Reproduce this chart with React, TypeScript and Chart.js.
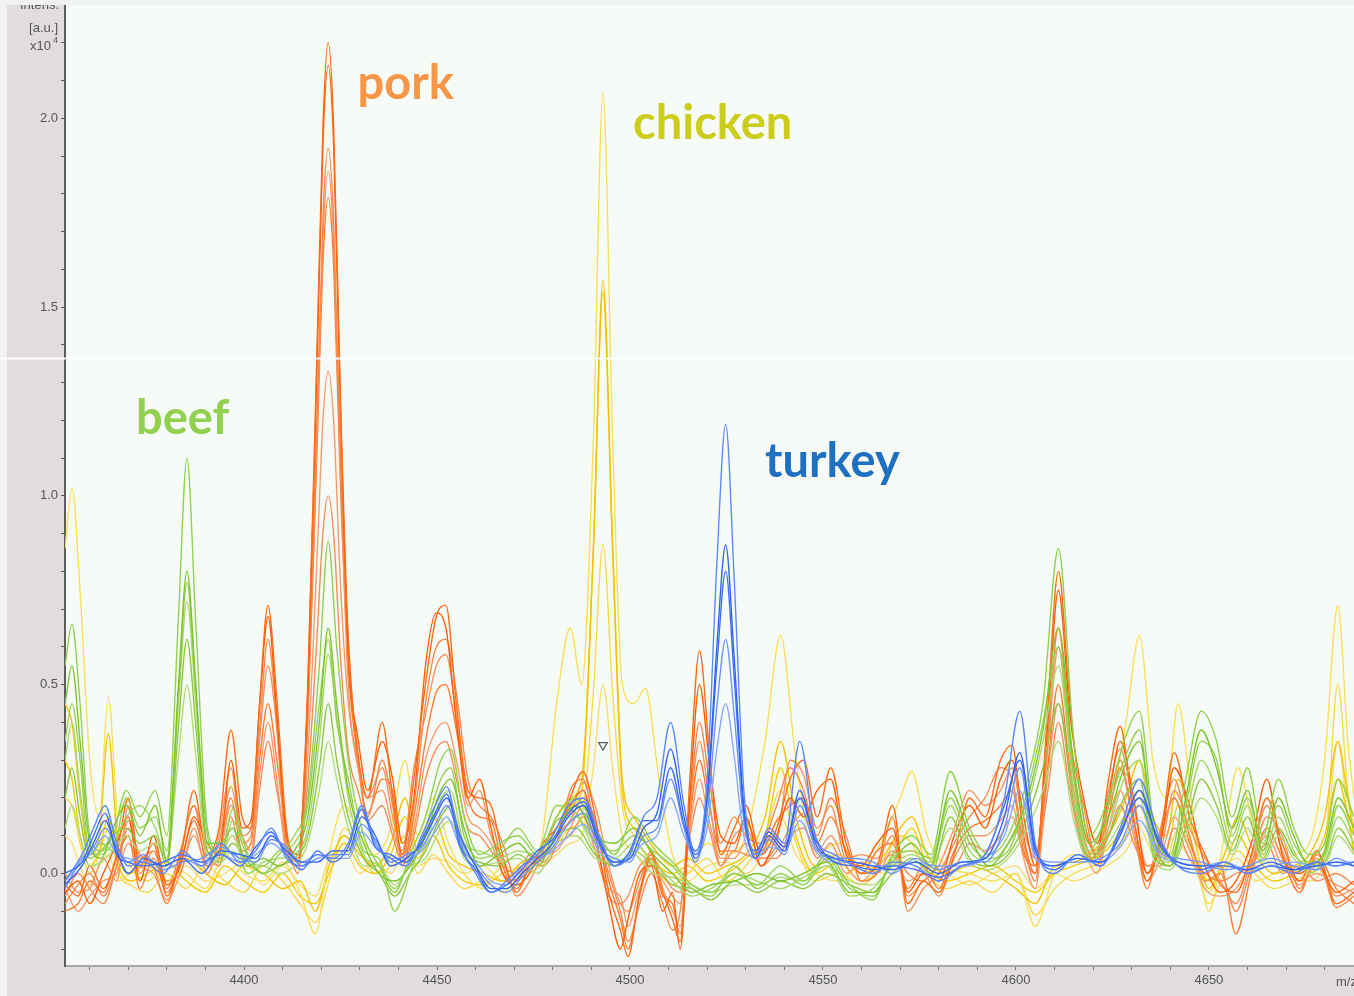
import React, { useEffect, useRef } from "react";
import { Chart, registerables } from "chart.js";

Chart.register(...registerables);

// ---- m/z grids and intensities (x10^4 a.u.) ----

const PORK_MZ = [
  4353.6, 4357, 4360, 4363.5, 4367, 4370, 4373, 4376.5, 4380, 4383.5,
  4387, 4390.5, 4393.5, 4396.6, 4399.5, 4401.8, 4404, 4406.2, 4408.5, 4411,
  4414, 4416.5, 4418.8, 4420.5, 4421.8, 4423.2, 4425, 4427, 4429.5, 4432,
  4435.8, 4438.5, 4441, 4444, 4447, 4449.8, 4452.3, 4455, 4458, 4461,
  4464, 4467, 4470.7, 4474, 4477.5, 4481, 4484.5, 4487.8, 4491, 4494.5,
  4497.5, 4499.5, 4502.5, 4505.5, 4508.5, 4511, 4513, 4515.5, 4518, 4520.5,
  4523.5, 4527, 4530, 4534, 4538, 4541.5, 4545, 4548.5, 4552, 4556,
  4560, 4564, 4568, 4572, 4576, 4580, 4584, 4588, 4592, 4596,
  4599, 4602, 4605, 4608, 4611, 4614, 4617.5, 4621, 4624, 4627,
  4630.5, 4634, 4637.5, 4641, 4645, 4649, 4653, 4657, 4661, 4665,
  4669, 4673.5, 4678, 4683, 4687.6,
];

const PORK_1 = [
  -0.03, -0.06, 0.02, -0.04, 0.05, 0.2, 0.02, 0.08, -0.06, 0.04,
  0.22, 0.05, 0.12, 0.38, 0.15, 0.12, 0.45, 0.71, 0.46, 0.12,
  0.03, 0.5, 1.35, 2.0, 2.2, 1.98, 1.25, 0.62, 0.32, 0.2,
  0.4, 0.2, 0.05, 0.25, 0.5, 0.68, 0.71, 0.45, 0.22, 0.2,
  0.18, 0.05, -0.05, 0.02, 0.05, 0.1, 0.2, 0.27, 0.15, -0.05,
  -0.15, -0.22, -0.05, 0.05, -0.05, -0.12, -0.18, 0.25, 0.59, 0.33,
  0.05, 0.12, 0.18, 0.05, 0.12, 0.25, 0.3, 0.15, 0.28, 0.08,
  0.0, 0.02, 0.18, -0.08, -0.02, -0.05, 0.05, 0.2, 0.15, 0.3,
  0.34, 0.1, 0.0, 0.4, 0.8, 0.45, 0.15, 0.05, 0.25, 0.39,
  0.15, -0.02, 0.1, 0.32, 0.15, 0.05, -0.03, -0.05, 0.05, 0.2,
  0.08, -0.02, 0.06, -0.08, -0.05,
];
const PORK_2 = [
  -0.05, -0.02, -0.08, 0.0, 0.08, 0.15, -0.02, 0.1, -0.03, 0.02,
  0.15, 0.08, 0.05, 0.3, 0.12, 0.14, 0.44, 0.68, 0.42, 0.1,
  0.05, 0.48, 1.31, 1.95, 2.14, 1.93, 1.22, 0.58, 0.36, 0.22,
  0.35, 0.25, 0.08, 0.2, 0.55, 0.69, 0.65, 0.4, 0.2, 0.25,
  0.12, 0.0, -0.03, 0.0, 0.08, 0.12, 0.18, 0.22, 0.1, -0.08,
  -0.2, -0.12, 0.0, 0.02, -0.1, -0.05, -0.2, 0.2, 0.5, 0.3,
  0.1, 0.08, 0.15, 0.02, 0.1, 0.2, 0.15, 0.22, 0.25, 0.05,
  0.02, 0.08, 0.12, -0.05, 0.0, -0.02, 0.1, 0.18, 0.12, 0.25,
  0.3, 0.15, 0.02, 0.36, 0.75, 0.42, 0.2, 0.08, 0.2, 0.35,
  0.2, 0.0, 0.08, 0.28, 0.18, 0.02, -0.05, -0.02, 0.08, 0.25,
  0.05, 0.0, 0.03, -0.05, -0.02,
];
const PORK_3 = [
  -0.08, -0.03, 0.0, -0.06, 0.02, 0.12, 0.05, 0.02, -0.08, 0.05,
  0.18, 0.02, 0.08, 0.23, 0.1, 0.12, 0.38, 0.62, 0.4, 0.08,
  0.02, 0.43, 1.17, 1.75, 1.92, 1.73, 1.1, 0.62, 0.3, 0.15,
  0.3, 0.18, 0.04, 0.18, 0.45, 0.6, 0.62, 0.48, 0.25, 0.18,
  0.15, 0.08, -0.02, 0.04, 0.02, 0.08, 0.22, 0.25, 0.12, 0.0,
  -0.1, -0.18, -0.08, 0.0, -0.08, -0.15, -0.1, 0.18, 0.4, 0.25,
  0.08, 0.15, 0.1, 0.08, 0.18, 0.28, 0.22, 0.1, 0.2, 0.1,
  -0.02, 0.0, 0.15, -0.1, -0.04, 0.0, 0.08, 0.15, 0.2, 0.28,
  0.25, 0.08, -0.02, 0.32, 0.65, 0.36, 0.18, 0.04, 0.18, 0.3,
  0.12, -0.04, 0.12, 0.25, 0.1, -0.02, 0.0, -0.1, 0.02, 0.15,
  0.1, -0.04, 0.04, -0.09, -0.06,
];
const PORK_4 = [
  0.0, -0.05, -0.04, 0.04, -0.02, 0.18, 0.0, 0.06, -0.02, 0.0,
  0.12, 0.0, 0.1, 0.28, 0.08, 0.1, 0.35, 0.55, 0.38, 0.06,
  0.04, 0.42, 1.13, 1.69, 1.86, 1.67, 1.06, 0.5, 0.28, 0.2,
  0.28, 0.15, 0.06, 0.28, 0.42, 0.55, 0.58, 0.42, 0.18, 0.22,
  0.1, 0.04, -0.06, -0.02, 0.06, 0.14, 0.16, 0.24, 0.18, 0.02,
  -0.08, -0.1, -0.02, 0.06, -0.04, -0.1, -0.14, 0.16, 0.35, 0.2,
  0.02, 0.1, 0.12, 0.04, 0.08, 0.3, 0.26, 0.12, 0.18, 0.04,
  0.05, 0.04, 0.1, -0.06, -0.02, 0.02, 0.12, 0.22, 0.18, 0.22,
  0.28, 0.12, 0.04, 0.3, 0.6, 0.33, 0.12, 0.06, 0.22, 0.33,
  0.18, 0.02, 0.06, 0.22, 0.12, 0.04, -0.02, -0.08, 0.04, 0.18,
  0.06, -0.03, 0.02, -0.06, -0.04,
];
const PORK_5 = [
  -0.1, -0.08, -0.02, -0.05, 0.04, 0.1, -0.04, 0.04, -0.05, 0.03,
  0.14, 0.04, 0.06, 0.2, 0.06, 0.08, 0.3, 0.45, 0.3, 0.1,
  0.0, 0.4, 1.09, 1.63, 1.79, 1.61, 1.02, 0.55, 0.3, 0.16,
  0.25, 0.22, 0.02, 0.15, 0.35, 0.48, 0.5, 0.38, 0.2, 0.15,
  0.14, 0.02, -0.04, 0.02, 0.04, 0.1, 0.14, 0.2, 0.14, -0.02,
  -0.12, -0.2, -0.06, 0.04, -0.06, -0.08, -0.16, 0.14, 0.3, 0.18,
  0.06, 0.06, 0.14, 0.06, 0.14, 0.18, 0.2, 0.08, 0.15, 0.06,
  0.0, 0.06, 0.08, -0.04, 0.02, -0.04, 0.06, 0.12, 0.14, 0.18,
  0.22, 0.06, 0.0, 0.26, 0.5, 0.28, 0.1, 0.02, 0.15, 0.28,
  0.14, 0.0, 0.1, 0.2, 0.08, 0.0, 0.02, -0.16, 0.0, 0.12,
  0.04, -0.05, 0.05, -0.04, -0.08,
];
const PORK_6 = [
  -0.04, -0.1, -0.06, -0.02, 0.0, 0.08, 0.02, 0.0, -0.07, 0.0,
  0.1, 0.02, 0.04, 0.18, 0.1, 0.06, 0.26, 0.4, 0.25, 0.05,
  0.02, 0.31, 0.81, 1.21, 1.33, 1.2, 0.76, 0.45, 0.3, 0.2,
  0.22, 0.12, 0.05, 0.12, 0.3, 0.38, 0.4, 0.3, 0.15, 0.12,
  0.08, 0.0, -0.02, 0.03, 0.05, 0.06, 0.12, 0.18, 0.08, -0.04,
  -0.06, -0.14, -0.04, 0.02, -0.02, -0.06, -0.08, 0.12, 0.25, 0.14,
  0.04, 0.04, 0.08, 0.02, 0.06, 0.12, 0.16, 0.06, 0.1, 0.02,
  -0.02, 0.02, 0.05, -0.02, 0.0, -0.06, 0.04, 0.1, 0.1, 0.14,
  0.18, 0.04, -0.04, 0.24, 0.45, 0.26, 0.08, 0.0, 0.12, 0.22,
  0.1, -0.02, 0.04, 0.15, 0.06, -0.04, -0.06, -0.04, 0.03, 0.1,
  0.02, -0.02, 0.0, -0.03, -0.05,
];
const PORK_7 = [
  -0.06, 0.0, -0.04, -0.08, 0.02, 0.14, 0.04, 0.06, -0.04, 0.06,
  0.18, 0.06, 0.02, 0.15, 0.04, 0.04, 0.22, 0.35, 0.22, 0.08,
  0.04, 0.24, 0.61, 0.91, 1.0, 0.9, 0.57, 0.32, 0.22, 0.14,
  0.18, 0.1, 0.03, 0.1, 0.25, 0.33, 0.35, 0.25, 0.12, 0.1,
  0.06, 0.02, 0.0, 0.05, 0.03, 0.08, 0.1, 0.15, 0.06, -0.06,
  -0.08, -0.06, 0.02, 0.04, 0.0, -0.04, -0.05, 0.1, 0.2, 0.12,
  0.02, 0.06, 0.05, 0.04, 0.04, 0.1, 0.12, 0.04, 0.08, 0.0,
  0.03, 0.0, 0.06, 0.0, -0.02, 0.02, 0.02, 0.08, 0.06, 0.1,
  0.15, 0.05, 0.02, 0.2, 0.4, 0.22, 0.06, 0.04, 0.1, 0.18,
  0.08, 0.02, 0.02, 0.12, 0.04, 0.0, -0.02, 0.0, 0.02, 0.08,
  0.0, 0.02, -0.02, 0.0, -0.03,
];
const PORK_TRACES = [PORK_1, PORK_2, PORK_3, PORK_4, PORK_5, PORK_6, PORK_7];
const PORK_COLORS = ["#ff6a14", "#ff5c00", "#f5884d", "#f7925e", "#ff7a2e", "#f59a6a", "#f78a55"];

const CHICKEN_MZ = [
  4353.6, 4355.4, 4357.5, 4360, 4362.5, 4364.8, 4367.5, 4370.5, 4375, 4380,
  4385, 4390, 4395, 4400, 4405, 4410, 4414.5, 4418.5, 4422, 4426,
  4430, 4434, 4438, 4441.7, 4445, 4449, 4453, 4457, 4462, 4467,
  4472, 4477, 4481, 4484.5, 4487.5, 4490.5, 4493, 4495.5, 4498, 4501,
  4504, 4507.5, 4511, 4515, 4520, 4525, 4530, 4535, 4539, 4543,
  4548, 4554, 4560, 4566, 4570, 4573, 4577, 4582, 4588, 4594,
  4600, 4605, 4610, 4615, 4620, 4625, 4628.5, 4632, 4635.5, 4639,
  4642, 4646, 4650, 4654, 4657.5, 4662, 4667, 4672, 4676, 4680,
  4683.4, 4686, 4687.6,
];
const CHICKEN_1 = [
  0.86, 1.02, 0.75, 0.3, 0.15, 0.47, 0.1, 0.02, -0.02, 0.02,
  0.0, -0.04, 0.05, 0.0, -0.02, 0.03, -0.05, -0.16, 0.05, 0.18,
  0.1, 0.05, 0.12, 0.3, 0.1, 0.2, 0.08, 0.0, -0.04, 0.02,
  0.0, 0.08, 0.45, 0.65, 0.5, 1.15, 2.07, 1.15, 0.5, 0.45,
  0.49, 0.25, 0.05, 0.0, 0.08, 0.05, 0.1, 0.35, 0.63, 0.3,
  0.05, 0.08, 0.02, 0.1, 0.2, 0.27, 0.1, 0.02, 0.0, -0.02,
  0.0, -0.14, 0.0, 0.05, 0.05, 0.2, 0.4, 0.63, 0.3, 0.2,
  0.45, 0.15, -0.1, 0.1, 0.28, 0.1, 0.02, 0.05, 0.08, 0.3,
  0.71, 0.35, 0.2,
];
const CHICKEN_2 = [
  0.45, 0.4, 0.2, 0.05, 0.1, 0.37, 0.05, 0.0, 0.03, -0.02,
  0.04, 0.0, -0.03, 0.02, 0.0, -0.04, -0.02, -0.1, 0.02, 0.1,
  0.05, 0.02, 0.08, 0.2, 0.06, 0.15, 0.05, 0.02, 0.0, -0.02,
  0.03, 0.05, 0.15, 0.2, 0.25, 0.86, 1.57, 0.87, 0.25, 0.15,
  0.1, 0.05, 0.02, 0.04, 0.0, 0.02, 0.05, 0.15, 0.35, 0.15,
  0.02, 0.05, 0.0, 0.05, 0.12, 0.15, 0.05, 0.0, 0.02, 0.0,
  -0.04, -0.08, 0.02, 0.03, 0.06, 0.12, 0.2, 0.3, 0.15, 0.1,
  0.25, 0.1, -0.04, 0.05, 0.15, 0.05, 0.0, 0.02, 0.05, 0.15,
  0.35, 0.2, 0.1,
];
const CHICKEN_3 = [
  0.3, 0.25, 0.1, 0.02, 0.06, 0.15, 0.02, -0.02, 0.0, 0.03,
  -0.02, -0.05, 0.02, -0.02, -0.05, 0.0, -0.06, -0.08, 0.0, 0.08,
  0.02, 0.0, 0.05, 0.15, 0.04, 0.1, 0.02, -0.02, -0.03, 0.0,
  0.02, 0.06, 0.12, 0.18, 0.22, 0.85, 1.54, 0.85, 0.22, 0.12,
  0.08, 0.02, 0.0, 0.02, -0.02, 0.0, 0.04, 0.1, 0.28, 0.1,
  0.0, 0.03, -0.02, 0.02, 0.08, 0.12, 0.02, -0.02, 0.0, 0.02,
  -0.02, -0.05, 0.0, 0.02, 0.04, 0.08, 0.15, 0.22, 0.12, 0.06,
  0.18, 0.06, -0.02, 0.02, 0.1, 0.02, -0.02, 0.0, 0.03, 0.1,
  0.25, 0.15, 0.06,
];
const CHICKEN_4 = [
  0.2, 0.18, 0.08, 0.0, 0.05, 0.12, 0.0, -0.03, -0.05, 0.0,
  -0.04, 0.02, -0.02, -0.05, 0.02, -0.02, -0.08, -0.13, -0.02, 0.12,
  0.06, 0.0, 0.02, 0.1, 0.0, 0.05, 0.0, -0.04, -0.02, -0.05,
  0.0, 0.04, 0.08, 0.12, 0.15, 0.48, 0.87, 0.48, 0.18, 0.1,
  0.05, 0.0, -0.03, 0.0, 0.04, -0.02, 0.02, 0.1, 0.22, 0.08,
  -0.02, 0.0, -0.03, 0.04, 0.1, 0.08, 0.0, -0.04, -0.02, -0.05,
  0.0, -0.11, -0.04, 0.0, 0.02, 0.05, 0.1, 0.18, 0.08, 0.04,
  0.12, 0.04, -0.08, 0.0, 0.06, 0.0, -0.04, -0.02, 0.0, 0.06,
  0.5, 0.22, 0.12,
];
const CHICKEN_5 = [
  0.1, 0.08, 0.02, -0.03, 0.02, 0.05, -0.02, 0.0, 0.02, -0.03,
  0.02, -0.02, 0.0, 0.03, -0.03, 0.02, -0.03, -0.06, 0.04, 0.06,
  0.0, 0.03, 0.0, 0.06, 0.02, 0.04, 0.03, 0.0, 0.02, -0.02,
  -0.01, 0.02, 0.05, 0.08, 0.1, 0.28, 0.5, 0.28, 0.1, 0.06,
  0.02, 0.03, 0.0, -0.02, 0.02, 0.03, 0.0, 0.06, 0.15, 0.05,
  0.0, -0.02, 0.02, 0.0, 0.05, 0.06, 0.02, 0.0, -0.03, 0.0,
  0.02, -0.04, 0.0, -0.02, 0.0, 0.03, 0.06, 0.12, 0.05, 0.02,
  0.08, 0.02, -0.05, 0.02, 0.04, -0.02, 0.0, 0.02, -0.02, 0.04,
  0.35, 0.15, 0.05,
];
const CHICKEN_TRACES = [CHICKEN_1, CHICKEN_2, CHICKEN_3, CHICKEN_4, CHICKEN_5];
const CHICKEN_COLORS = ["#f8df55", "#f2c200", "#f5c900", "#f7d84a", "#f8dc6a"];

const BEEF_MZ = [
  4353.6, 4355.4, 4357.5, 4360, 4363, 4366, 4369.5, 4373, 4377, 4380,
  4383, 4385.2, 4387.5, 4390.5, 4394, 4397, 4401, 4405, 4409, 4413,
  4416.5, 4419.5, 4421.8, 4424, 4427, 4431, 4435, 4439, 4443, 4447,
  4451, 4453.5, 4457, 4461, 4466, 4471, 4476, 4481, 4486, 4491,
  4496, 4501, 4506, 4511, 4516, 4521, 4527, 4533, 4539, 4545,
  4551, 4557, 4563, 4568, 4573, 4578, 4583, 4588, 4593, 4598,
  4603, 4607, 4611, 4615, 4619, 4624, 4628, 4632, 4636, 4640,
  4644, 4648, 4652, 4656, 4660, 4664, 4668, 4672, 4676, 4680,
  4683.5, 4687.6,
];
const BEEF_1 = [
  0.55, 0.66, 0.45, 0.1, 0.06, 0.1, 0.22, 0.15, 0.22, 0.1,
  0.68, 1.1, 0.66, 0.12, 0.05, 0.17, 0.05, 0.0, 0.05, 0.1,
  0.2, 0.55, 0.88, 0.6, 0.3, 0.1, 0.02, -0.05, 0.05, 0.15,
  0.3, 0.33, 0.15, 0.05, 0.08, 0.1, 0.05, 0.15, 0.2, 0.12,
  0.05, 0.15, 0.08, 0.03, -0.03, -0.05, 0.0, -0.03, 0.02, -0.02,
  0.05, -0.03, -0.07, 0.05, 0.1, 0.05, 0.27, 0.12, 0.05, 0.1,
  0.25, 0.45, 0.86, 0.35, 0.1, 0.2, 0.35, 0.43, 0.1, 0.05,
  0.25, 0.43, 0.35, 0.15, 0.28, 0.1, 0.25, 0.12, 0.05, 0.08,
  0.25, 0.15,
];
const BEEF_2 = [
  0.45, 0.55, 0.35, 0.08, 0.04, 0.12, 0.18, 0.1, 0.18, 0.03,
  0.5, 0.8, 0.5, 0.08, 0.08, 0.12, 0.02, 0.04, 0.02, 0.06,
  0.15, 0.4, 0.65, 0.45, 0.22, 0.08, 0.0, -0.02, 0.02, 0.1,
  0.22, 0.25, 0.12, 0.02, 0.05, 0.08, 0.03, 0.12, 0.18, 0.1,
  0.08, 0.12, 0.05, 0.0, -0.05, -0.03, -0.02, 0.0, -0.02, 0.0,
  0.03, -0.05, -0.05, 0.03, 0.08, 0.02, 0.22, 0.1, 0.02, 0.08,
  0.2, 0.38, 0.65, 0.28, 0.08, 0.15, 0.28, 0.35, 0.08, 0.02,
  0.2, 0.38, 0.28, 0.12, 0.22, 0.06, 0.2, 0.1, 0.02, 0.06,
  0.2, 0.12,
];
const BEEF_3 = [
  0.35, 0.45, 0.3, 0.05, 0.08, 0.06, 0.2, 0.12, 0.15, 0.06,
  0.48, 0.77, 0.48, 0.1, 0.03, 0.14, 0.04, 0.02, 0.06, 0.08,
  0.18, 0.45, 0.62, 0.4, 0.25, 0.06, 0.04, -0.1, 0.0, 0.12,
  0.25, 0.28, 0.1, 0.04, 0.06, 0.12, 0.06, 0.18, 0.16, 0.08,
  0.06, 0.1, 0.06, 0.02, -0.04, -0.06, 0.02, -0.04, 0.0, -0.03,
  0.04, -0.04, -0.06, 0.04, 0.06, 0.04, 0.2, 0.08, 0.04, 0.06,
  0.22, 0.4, 0.6, 0.25, 0.06, 0.18, 0.3, 0.38, 0.06, 0.04,
  0.18, 0.35, 0.3, 0.1, 0.2, 0.08, 0.18, 0.08, 0.03, 0.05,
  0.18, 0.1,
];
const BEEF_4 = [
  0.3, 0.4, 0.22, 0.06, 0.05, 0.08, 0.15, 0.18, 0.12, 0.04,
  0.45, 0.72, 0.45, 0.07, 0.06, 0.1, 0.0, 0.03, 0.04, 0.05,
  0.12, 0.35, 0.58, 0.42, 0.2, 0.05, 0.02, -0.04, 0.03, 0.08,
  0.2, 0.22, 0.08, 0.06, 0.04, 0.06, 0.05, 0.14, 0.15, 0.06,
  0.04, 0.08, 0.03, -0.02, -0.06, -0.04, 0.0, -0.02, -0.04, -0.01,
  0.02, -0.06, -0.04, 0.02, 0.05, 0.03, 0.18, 0.06, 0.03, 0.08,
  0.18, 0.35, 0.55, 0.22, 0.05, 0.12, 0.25, 0.3, 0.05, 0.03,
  0.15, 0.3, 0.22, 0.08, 0.18, 0.05, 0.15, 0.06, 0.0, 0.04,
  0.15, 0.08,
];
const BEEF_5 = [
  0.2, 0.28, 0.15, 0.04, 0.06, 0.1, 0.12, 0.08, 0.1, 0.02,
  0.39, 0.62, 0.39, 0.06, 0.04, 0.08, 0.03, 0.0, 0.02, 0.04,
  0.1, 0.28, 0.45, 0.3, 0.15, 0.04, 0.0, -0.06, 0.0, 0.06,
  0.15, 0.18, 0.06, 0.03, 0.02, 0.05, 0.02, 0.1, 0.12, 0.05,
  0.02, 0.06, 0.02, -0.03, -0.04, -0.07, -0.02, -0.05, -0.02, -0.04,
  0.0, -0.03, -0.05, 0.0, 0.04, 0.0, 0.15, 0.04, 0.02, 0.05,
  0.15, 0.28, 0.45, 0.18, 0.04, 0.1, 0.2, 0.25, 0.04, 0.02,
  0.12, 0.25, 0.18, 0.06, 0.15, 0.04, 0.12, 0.05, 0.02, 0.03,
  0.12, 0.06,
];
const BEEF_6 = [
  0.12, 0.18, 0.1, 0.02, 0.03, 0.06, 0.1, 0.06, 0.08, 0.04,
  0.31, 0.5, 0.31, 0.04, 0.03, 0.06, 0.0, 0.02, 0.0, 0.02,
  0.08, 0.22, 0.35, 0.25, 0.12, 0.02, 0.02, -0.03, 0.02, 0.04,
  0.12, 0.14, 0.04, 0.02, 0.03, 0.04, 0.0, 0.08, 0.1, 0.04,
  0.03, 0.05, 0.0, -0.01, -0.03, -0.05, -0.03, -0.03, -0.01, -0.02,
  0.02, -0.02, -0.03, 0.02, 0.03, 0.02, 0.12, 0.03, 0.01, 0.04,
  0.12, 0.22, 0.35, 0.14, 0.03, 0.08, 0.15, 0.2, 0.03, 0.01,
  0.1, 0.2, 0.15, 0.05, 0.12, 0.03, 0.1, 0.04, 0.01, 0.02,
  0.1, 0.05,
];
const BEEF_TRACES = [BEEF_1, BEEF_2, BEEF_3, BEEF_4, BEEF_5, BEEF_6];
const BEEF_COLORS = ["#8fd14a", "#7cc42a", "#98d052", "#a6d868", "#8cc63f", "#b0dc78"];

const TURKEY_MZ = [
  4353.6, 4358, 4361, 4364, 4367, 4370, 4374, 4379, 4384, 4389,
  4394, 4399, 4403, 4407, 4411, 4415, 4419, 4423, 4427, 4430.5,
  4434, 4438, 4442, 4446, 4449.5, 4452.5, 4456, 4460, 4464, 4468,
  4472, 4476, 4480, 4484, 4488, 4492, 4496, 4500, 4503.5, 4507,
  4510.5, 4514, 4517, 4520, 4522.5, 4524.8, 4527, 4529.5, 4532.5, 4536,
  4540, 4544, 4548, 4553, 4558, 4563, 4568, 4574, 4580, 4586,
  4592, 4597, 4601, 4605, 4610, 4616, 4622, 4627, 4632, 4637,
  4642, 4648, 4654, 4660, 4666, 4672, 4678, 4683, 4687.6,
];
const TURKEY_1 = [
  -0.02, 0.05, 0.12, 0.18, 0.08, 0.02, 0.03, 0.0, 0.06, 0.02,
  0.08, 0.03, 0.06, 0.12, 0.04, 0.02, 0.05, 0.04, 0.08, 0.18,
  0.08, 0.04, 0.02, 0.1, 0.18, 0.23, 0.08, 0.0, -0.05, -0.02,
  0.02, 0.05, 0.1, 0.18, 0.2, 0.1, 0.02, 0.05, 0.15, 0.2,
  0.4, 0.18, 0.05, 0.25, 0.82, 1.19, 0.78, 0.22, 0.05, 0.12,
  0.08, 0.35, 0.1, 0.05, 0.02, 0.0, 0.03, 0.02, -0.02, 0.02,
  0.05, 0.2, 0.43, 0.08, 0.0, 0.05, 0.02, 0.12, 0.25, 0.1,
  0.02, 0.0, 0.03, 0.0, 0.02, 0.0, 0.03, 0.02, 0.03,
];
const TURKEY_2 = [
  -0.03, 0.02, 0.08, 0.14, 0.06, 0.0, 0.04, 0.02, 0.04, 0.0,
  0.06, 0.05, 0.04, 0.1, 0.06, 0.03, 0.03, 0.06, 0.06, 0.15,
  0.1, 0.02, 0.04, 0.08, 0.15, 0.2, 0.1, 0.02, -0.04, -0.04,
  0.0, 0.04, 0.08, 0.15, 0.18, 0.08, 0.03, 0.04, 0.12, 0.16,
  0.33, 0.15, 0.04, 0.2, 0.6, 0.87, 0.57, 0.18, 0.04, 0.1,
  0.06, 0.22, 0.08, 0.04, 0.03, 0.02, 0.01, 0.03, 0.0, 0.03,
  0.04, 0.15, 0.32, 0.06, 0.02, 0.04, 0.03, 0.1, 0.22, 0.08,
  0.03, 0.02, 0.02, 0.01, 0.03, 0.01, 0.02, 0.03, 0.02,
];
const TURKEY_3 = [
  0.0, 0.03, 0.1, 0.16, 0.05, 0.03, 0.02, 0.03, 0.05, 0.03,
  0.05, 0.02, 0.07, 0.11, 0.05, 0.01, 0.06, 0.03, 0.07, 0.17,
  0.07, 0.05, 0.03, 0.09, 0.16, 0.21, 0.07, 0.01, -0.05, -0.03,
  0.01, 0.06, 0.09, 0.16, 0.19, 0.09, 0.02, 0.06, 0.14, 0.14,
  0.28, 0.13, 0.06, 0.2, 0.55, 0.8, 0.52, 0.16, 0.06, 0.11,
  0.07, 0.2, 0.09, 0.03, 0.02, 0.01, 0.02, 0.01, -0.01, 0.02,
  0.05, 0.18, 0.3, 0.07, 0.01, 0.05, 0.02, 0.11, 0.2, 0.09,
  0.02, 0.01, 0.03, 0.0, 0.02, 0.01, 0.03, 0.02, 0.03,
];
const TURKEY_4 = [
  -0.04, 0.04, 0.07, 0.12, 0.07, 0.03, 0.05, 0.01, 0.03, 0.04,
  0.07, 0.04, 0.03, 0.09, 0.07, 0.02, 0.04, 0.05, 0.05, 0.13,
  0.09, 0.03, 0.05, 0.07, 0.13, 0.18, 0.09, 0.02, -0.03, -0.05,
  -0.01, 0.03, 0.07, 0.13, 0.16, 0.07, 0.04, 0.03, 0.1, 0.12,
  0.25, 0.12, 0.03, 0.16, 0.44, 0.62, 0.42, 0.14, 0.05, 0.09,
  0.05, 0.18, 0.07, 0.04, 0.04, 0.03, 0.0, 0.04, 0.01, 0.03,
  0.03, 0.12, 0.28, 0.05, 0.03, 0.03, 0.04, 0.08, 0.18, 0.06,
  0.04, 0.03, 0.01, 0.02, 0.04, 0.02, 0.01, 0.04, 0.02,
];
const TURKEY_5 = [
  -0.02, 0.03, 0.06, 0.1, 0.05, 0.04, 0.03, 0.02, 0.04, 0.02,
  0.05, 0.03, 0.05, 0.08, 0.05, 0.03, 0.05, 0.04, 0.04, 0.11,
  0.07, 0.04, 0.04, 0.06, 0.11, 0.15, 0.07, 0.03, -0.02, -0.03,
  0.02, 0.04, 0.06, 0.1, 0.13, 0.06, 0.03, 0.04, 0.08, 0.1,
  0.2, 0.1, 0.05, 0.12, 0.33, 0.45, 0.31, 0.1, 0.04, 0.07,
  0.06, 0.14, 0.06, 0.03, 0.03, 0.02, 0.02, 0.03, 0.02, 0.02,
  0.04, 0.1, 0.22, 0.04, 0.02, 0.04, 0.03, 0.07, 0.14, 0.05,
  0.03, 0.02, 0.03, 0.01, 0.02, 0.03, 0.02, 0.03, 0.03,
];
const TURKEY_TRACES = [TURKEY_1, TURKEY_2, TURKEY_3, TURKEY_4, TURKEY_5];
const TURKEY_COLORS = ["#5a86ff", "#2f62f5", "#3a6cff", "#6a92ff", "#86a6ff"];

// peak marker (m/z, intensity)
const MARKER = { x: 4493, y: 0.34 };

// axis ticks
const Y_TICKS = [
  -0.2, -0.1, 0.0, 0.1, 0.2, 0.3, 0.4, 0.5, 0.6, 0.7, 0.8, 0.9, 1.0,
  1.1, 1.2, 1.3, 1.4, 1.5, 1.6, 1.7, 1.8, 1.9, 2.0, 2.1, 2.2,
];
const Y_LABELED = [0.0, 0.5, 1.0, 1.5, 2.0];
const X_TICKS = [
  4360, 4370, 4380, 4390, 4400, 4410, 4420, 4430, 4440, 4450, 4460, 4470,
  4480, 4490, 4500, 4510, 4520, 4530, 4540, 4550, 4560, 4570, 4580, 4590,
  4600, 4610, 4620, 4630, 4640, 4650, 4660, 4670, 4680,
];
const X_LABELED = [4400, 4450, 4500, 4550, 4600, 4650];

const SPECIES = ["pork", "chicken", "beef", "turkey"];

const AXIS_FONT = "'Liberation Sans', Arial, sans-serif";

function traceSets(mz: number[], traces: number[][], colors: string[], name: string) {
  return traces.map((vals, i) => ({
    label: `${name} ${i + 1}`,
    data: mz.map((x, j) => ({ x, y: vals[j] })),
    borderColor: colors[i % colors.length],
    backgroundColor: colors[i % colors.length],
    borderWidth: 1.35,
    pointRadius: 0,
    cubicInterpolationMode: "monotone" as const,
    fill: false,
  }));
}

const decorations = {
  id: "decorations",
  beforeDraw(chart: any) {
    const { ctx, chartArea: a, width, height } = chart;
    ctx.save();
    ctx.fillStyle = "#f1f2f4";
    ctx.fillRect(0, 0, width, height);
    ctx.fillStyle = "#e0dce0";
    ctx.fillRect(7, 5, width - 7, height - 5);
    ctx.fillStyle = "#f6fbf8";
    ctx.fillRect(a.left, a.top, a.right - a.left, a.bottom - a.top);
    ctx.restore();
  },
  afterDatasetsDraw(chart: any) {
    const { ctx, scales } = chart;
    const xs = scales.x;
    const ys = scales.y;
    const spots: [string, number, number, string][] = [
      [SPECIES[0], 4429.4, 2.05, "#f79646"],
      [SPECIES[1], 4500.8, 1.944, "#cccc1a"],
      [SPECIES[2], 4372.0, 1.163, "#92d050"],
      [SPECIES[3], 4535.0, 1.049, "#1f70c1"],
    ];
    ctx.save();
    ctx.font = "bold 47px Lato, 'Open Sans', sans-serif";
    ctx.textAlign = "left";
    ctx.textBaseline = "alphabetic";
    for (const [txt, mx, my, col] of spots) {
      ctx.fillStyle = col;
      ctx.fillText(txt, xs.getPixelForValue(mx), ys.getPixelForValue(my));
    }
    ctx.restore();
  },
  afterDraw(chart: any) {
    const { ctx, width, scales } = chart;
    const ys = scales.y;
    ctx.save();
    // scan seam across the panel
    const seam = Math.round(ys.getPixelForValue(1.364)) + 0.5;
    ctx.strokeStyle = "rgba(255,255,255,0.95)";
    ctx.lineWidth = 2;
    ctx.beginPath();
    ctx.moveTo(0, seam);
    ctx.lineTo(width, seam);
    ctx.stroke();

    // y-axis header
    ctx.fillStyle = "#555";
    ctx.textAlign = "right";
    ctx.textBaseline = "middle";
    ctx.font = `13px ${AXIS_FONT}`;
    const yTop = ys.getPixelForValue(2.2);
    ctx.fillText("x10", 51, yTop + 4);
    ctx.font = `9px ${AXIS_FONT}`;
    ctx.fillText("4", 58, yTop - 2);
    ctx.font = `13px ${AXIS_FONT}`;
    ctx.fillText("[a.u.]", 58, 28);
    ctx.fillText("Intens.", 59, 5);

    // x-axis unit
    ctx.textAlign = "left";
    ctx.fillText("m/z", 1336, 982);

    // top strip
    ctx.fillStyle = "#f1f2f4";
    ctx.fillRect(0, 0, width, 5);
    ctx.restore();
  },
};

export default function App() {
  const canvasRef = useRef<HTMLCanvasElement | null>(null);

  useEffect(() => {
    document.body.style.margin = "0";
    const canvas = canvasRef.current;
    if (!canvas) return;

    const datasets: any[] = [
      {
        label: "marker",
        data: [MARKER],
        showLine: false,
        pointStyle: "triangle",
        rotation: 180,
        pointRadius: 5,
        pointBorderWidth: 1.2,
        pointBorderColor: "#5a5a5a",
        pointBackgroundColor: "rgba(0,0,0,0)",
        borderColor: "#5a5a5a",
      },
      ...traceSets(TURKEY_MZ, TURKEY_TRACES, TURKEY_COLORS, "turkey"),
      ...traceSets(BEEF_MZ, BEEF_TRACES, BEEF_COLORS, "beef"),
      ...traceSets(PORK_MZ, PORK_TRACES, PORK_COLORS, "pork"),
      ...traceSets(CHICKEN_MZ, CHICKEN_TRACES, CHICKEN_COLORS, "chicken"),
    ];

    const tickFont = { family: AXIS_FONT, size: 13 };

    const chart = new Chart(canvas, {
      type: "line",
      data: { datasets },
      options: {
        animation: false,
        responsive: true,
        maintainAspectRatio: false,
        devicePixelRatio: 1,
        layout: { autoPadding: false, padding: { top: 5, left: 0, right: 0, bottom: 0 } },
        plugins: {
          legend: { display: false },
          tooltip: { enabled: false },
        },
        events: [],
        scales: {
          x: {
            type: "linear",
            min: 4353.6,
            max: 4687.6,
            afterBuildTicks: (axis: any) => {
              axis.ticks = X_TICKS.map((v) => ({ value: v }));
            },
            afterFit: (axis: any) => {
              axis.height = 30;
              axis.paddingLeft = 0;
              axis.paddingRight = 0;
            },
            ticks: {
              autoSkip: false,
              maxRotation: 0,
              padding: 3,
              color: "#555",
              font: tickFont,
              callback: (v: any) => (X_LABELED.includes(Number(v)) ? String(v) : ""),
            },
            grid: {
              display: true,
              drawOnChartArea: false,
              drawTicks: true,
              tickLength: 4,
              tickColor: "#777",
            },
            border: { display: true, color: "#a8a8a8", width: 2 },
          },
          y: {
            type: "linear",
            min: -0.245,
            max: 2.3,
            afterBuildTicks: (axis: any) => {
              axis.ticks = Y_TICKS.map((v) => ({ value: v }));
            },
            afterFit: (axis: any) => {
              axis.width = 65;
              axis.paddingTop = 0;
              axis.paddingBottom = 0;
            },
            ticks: {
              autoSkip: false,
              padding: 3,
              color: "#555",
              font: tickFont,
              callback: (v: any) => {
                const n = Number(v);
                return Y_LABELED.some((t) => Math.abs(t - n) < 1e-9) ? n.toFixed(1) : "";
              },
            },
            grid: {
              display: true,
              drawOnChartArea: false,
              drawTicks: true,
              tickLength: 4,
              tickColor: "#555",
            },
            border: { display: true, color: "#5c5c5c", width: 2 },
          },
        },
      },
      plugins: [decorations],
    });

    return () => chart.destroy();
  }, []);

  return (
    <div style={{ width: 1354, height: 996, position: "relative" }}>
      <canvas ref={canvasRef} />
    </div>
  );
}
